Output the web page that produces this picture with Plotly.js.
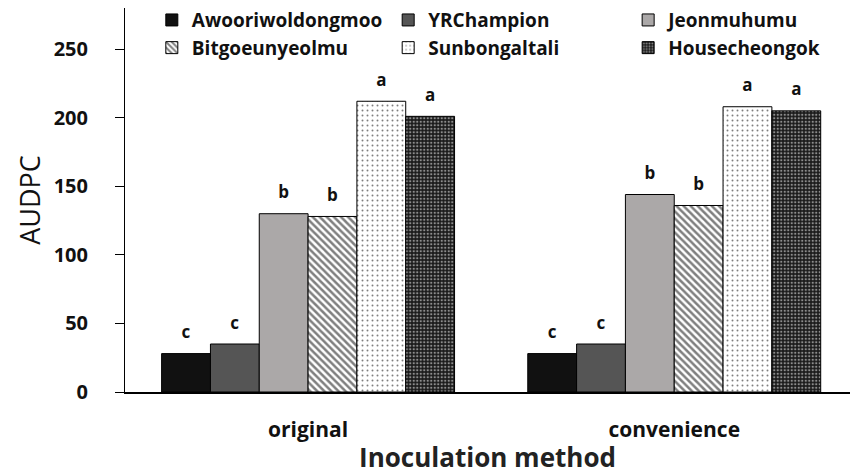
<!DOCTYPE html>
<html><head><meta charset="utf-8">
<script src="https://cdn.plot.ly/plotly-3.0.1.min.js"></script>
<style>html,body{margin:0;padding:0;background:#fff}#chart{width:850px;height:475px}</style>
</head><body><div id="chart"></div>
<script>
const methods = ['original', 'convenience'];
const seriesNames = ['Awooriwoldongmoo', 'YRChampion', 'Jeonmuhumu', 'Bitgoeunyeolmu', 'Sunbongaltali', 'Housecheongok'];
const awoori = [28, 28];
const yrChampion = [35, 35];
const jeonmuhumu = [130, 144];
const bitgoeunyeolmu = [128, 136];
const sunbongaltali = [212, 208];
const housecheongok = [201, 205];
const letters = [['c','c'], ['c','c'], ['b','b'], ['b','b'], ['a','a'], ['a','a']];
const yTicks = [0, 50, 100, 150, 200, 250];

const values = [awoori, yrChampion, jeonmuhumu, bitgoeunyeolmu, sunbongaltali, housecheongok];
const styles = [
  {color: '#111111'},
  {color: '#555555'},
  {color: '#aba8a8'},
  {color: '#ffffff', pattern: {shape: '\\', fgcolor: '#000', bgcolor: '#fff', size: 5, solidity: 0.5, fillmode: 'overlay'}},
  {color: '#ffffff', pattern: {shape: '.', fgcolor: '#000', bgcolor: '#fff', size: 5, solidity: 0.12, fillmode: 'overlay'}},
  {color: '#ffffff', pattern: {shape: '.', fgcolor: '#fff', bgcolor: '#1a1a1a', size: 3.5, solidity: 0.35, fillmode: 'overlay'}}
];
const legendIds = ['legend', 'legend2', 'legend3', 'legend', 'legend2', 'legend3'];
const font = '"Open Sans", sans-serif';

const traces = seriesNames.map((name, i) => ({
  type: 'bar', name: name, x: methods, y: values[i],
  text: letters[i].map(l => '<span style="font-size:17px">' + l + '</span><br> '),
  textposition: 'outside', cliponaxis: false,
  textfont: {family: font, size: 8, color: '#111', weight: 'bold'},
  marker: Object.assign({line: {color: '#000', width: 1}}, styles[i]),
  legend: legendIds[i], hoverinfo: 'none'
}));
// empty helper trace so the label axis (y2) is drawn
traces.push({type: 'scatter', mode: 'markers', x: [], y: [], yaxis: 'y2', showlegend: false, hoverinfo: 'none'});

const legendBase = {orientation: 'v', bgcolor: 'rgba(0,0,0,0)', yanchor: 'top', y: 1.018,
  font: {family: font, size: 19, color: '#111', weight: 'bold'}, tracegroupgap: 0, itemwidth: 30};

const layout = {
  width: 850, height: 475,
  margin: {l: 125, r: 0, t: 8, b: 83},
  paper_bgcolor: '#fff', plot_bgcolor: '#fff',
  barmode: 'group', bargap: 0.2, bargroupgap: 0,
  showlegend: true,
  legend: Object.assign({}, legendBase, {x: 0.037}),
  legend2: Object.assign({}, legendBase, {x: 0.363}),
  legend3: Object.assign({}, legendBase, {x: 0.694}),
  xaxis: {type: 'category', range: [-0.5, 1.48], showline: true, linecolor: '#000', linewidth: 1.5,
    ticks: '', showgrid: false, zeroline: false, ticklabelstandoff: 18,
    tickfont: {family: font, size: 21, color: '#111', weight: 'bold'},
    title: {text: 'Inoculation method', font: {family: font, size: 26, color: '#222', weight: 'bold'}, standoff: 8}},
  yaxis: {range: [0, 280], showline: true, linecolor: '#000', linewidth: 1.5, ticks: 'outside', ticklen: 9,
    tickcolor: '#000', tickvals: yTicks, showgrid: false, zeroline: false, showticklabels: false},
  yaxis2: {overlaying: 'y', side: 'left', anchor: 'x', range: [0, 280], showline: false, ticks: 'outside', ticklen: 32,
    tickcolor: 'rgba(0,0,0,0)', tickvals: yTicks, showgrid: false, zeroline: false,
    tickfont: {family: font, size: 20, color: '#111', weight: 'bold'},
    title: {text: 'AUDPC', font: {family: font, size: 27, color: '#111'}, standoff: 5}}
};

Plotly.newPlot('chart', traces, layout, {displayModeBar: false, staticPlot: true});
</script></body></html>
